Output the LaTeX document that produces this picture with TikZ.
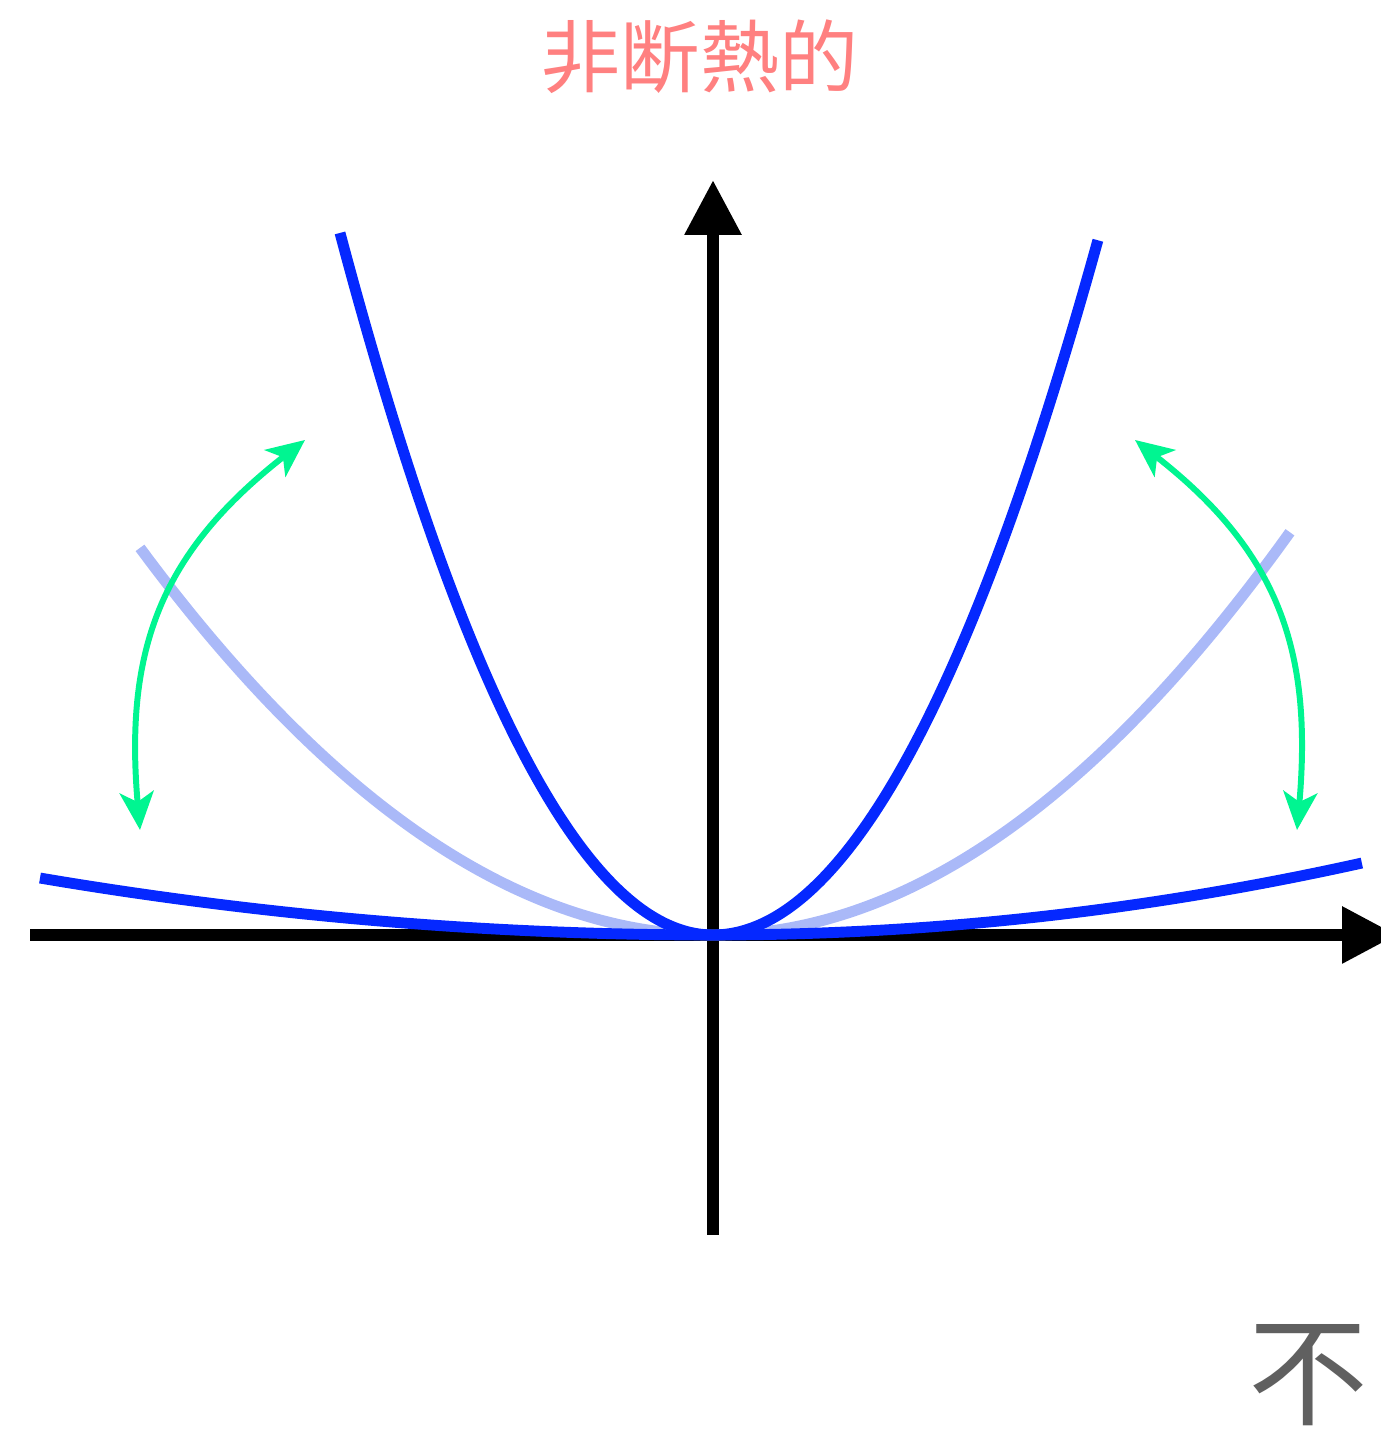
\documentclass[tikz,border=0pt]{standalone}
\usepackage{fontspec}
\newfontfamily\jpfont{Noto Sans CJK JP}
\usetikzlibrary{arrows.meta}

\definecolor{curveblue}{RGB}{5,40,255}
\definecolor{curvelight}{RGB}{170,185,248}
\definecolor{swapgreen}{RGB}{0,245,145}
\definecolor{titlered}{RGB}{255,128,128}
\definecolor{labelgray}{RGB}{96,96,96}

\begin{document}
\begin{tikzpicture}[>=Stealth,
    axis/.style={line width=3.5pt, -{Triangle[length=0.55cm, width=0.54cm]}},
    curve/.style={line width=3.1pt, curveblue, smooth, samples=121},
    swap/.style={line width=1.7pt, swapgreen, {Stealth[length=0.38cm, width=0.34cm, inset=0.1cm]}-{Stealth[length=0.38cm, width=0.34cm, inset=0.1cm]}}]

    \useasboundingbox (0,0) rectangle (13.8,14.3);

    % 1. Ejes
    \coordinate (O) at (7.13,4.95);
    \coordinate (xL) at (0.30,4.95);
    \coordinate (xR) at (13.97,4.95);
    \coordinate (yB) at (7.13,1.95);
    \coordinate (yT) at (7.13,12.50);
    \draw[axis] (xL) -- (xR);
    \draw[axis] (yB) -- (yT);

    \begin{scope}[shift={(O)}]
        % 2. Curva intermedia (tenue)
        \draw[curve, curvelight] plot[domain=-5.73:5.77] (\x, {(\x<0 ? 0.1179 : 0.1210)*\x*\x});

        % 3. Curva abierta y curva cerrada
        \draw[curve] plot[domain=-6.73:6.49] (\x, {(\x<0 ? 0.01258 : 0.01709)*\x*\x});
        \draw[curve] plot[domain=-3.73:3.85] (\x, {(\x<0 ? 0.5046 : 0.4690)*\x*\x});

        % 4. Flechas verdes
        \coordinate (LB) at (-5.73,1.05);
        \coordinate (LT) at (-4.08,4.95);
        \coordinate (RT) at (4.22,4.95);
        \coordinate (RB) at (5.84,1.05);
        \draw[swap] (LB) to[out=95, in=218, looseness=1.1] (LT);
        \draw[swap] (RT) to[out=-38, in=85, looseness=1.1] (RB);
    \end{scope}

    % 5. Textos
    \node[text=titlered, font=\jpfont\fontsize{22.5}{27}\selectfont] (title) at (7.00,13.73) {非断熱的};
    \node[text=labelgray, font=\jpfont\fontsize{34}{40}\selectfont] (label) at (13.08,0.55) {不};

\end{tikzpicture}
\end{document}
